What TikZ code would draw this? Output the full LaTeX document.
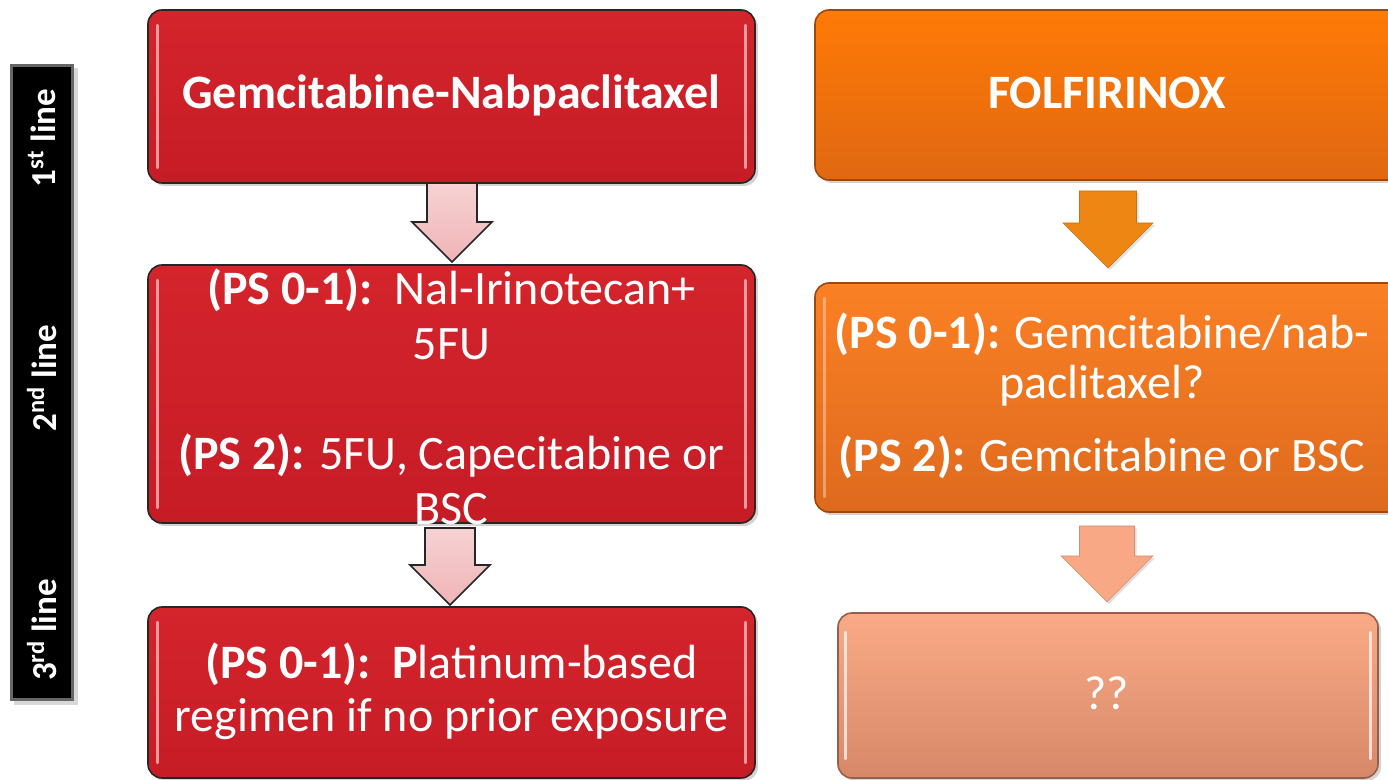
\documentclass[tikz,border=0pt]{standalone}
\usepackage{fontspec}
\setmainfont{Carlito}
\usetikzlibrary{shadows}
\definecolor{redtop}{RGB}{212,36,44}
\definecolor{redbot}{RGB}{198,28,38}
\definecolor{orgtop}{RGB}{255,122,6}
\definecolor{orgbot}{RGB}{224,104,18}
\definecolor{orgbox}{RGB}{250,128,36}
\definecolor{orgbox2}{RGB}{222,106,30}
\definecolor{saltop}{RGB}{250,170,134}
\definecolor{salbot}{RGB}{214,136,104}
\definecolor{pinkarr}{RGB}{240,180,182}
\definecolor{orgarr}{RGB}{238,134,20}
\definecolor{salarr}{RGB}{248,168,132}
\tikzset{
  box/.style={rounded corners=7pt, line width=0.8pt, inner sep=0pt, drop shadow={shadow xshift=1.5pt, shadow yshift=-1.5pt, opacity=0.35}},
  redbox/.style={box, draw=black!85, top color=redtop, bottom color=redbot},
  orgbox/.style={box, draw=orgbot!70!black, top color=orgtop, bottom color=orgbot},
  orgboxb/.style={box, draw=orgbot!70!black, top color=orgbox, bottom color=orgbox2},
  salbox/.style={box, draw=salbot!70!black, top color=saltop, bottom color=salbot},
  txt/.style={text=white, align=center, font=\fontsize{24}{27.5}\selectfont},
  pinkarrow/.style={draw=black!85, line width=0.8pt, top color=pinkarr!60!white, bottom color=pinkarr, line join=miter},
  orgarrow/.style={fill=orgarr, draw=orgarr!85!black, line width=0.3pt, drop shadow={shadow xshift=1pt, shadow yshift=-1pt, opacity=0.25}},
  salarrow/.style={fill=salarr, draw=salarr!85!black, line width=0.3pt, drop shadow={shadow xshift=1pt, shadow yshift=-1pt, opacity=0.25}},
  hilite/.style={white, opacity=0.55, line width=1.4pt, line cap=round},
  barlabel/.style={text=white, rotate=90, font=\fontsize{17.5}{20}\selectfont\bfseries}
}
% block arrow: style, x centre, y top, y tip, shaft half width, head half width
\newcommand\blockarr[6]{%
  \draw[#1] (#2-#5,#3) -- (#2+#5,#3) -- (#2+#5,#4-#6) -- (#2+#6,#4-#6) -- (#2,#4)
    -- (#2-#6,#4-#6) -- (#2-#5,#4-#6) -- cycle;}
\begin{document}
\begin{tikzpicture}[x=0.5pt,y=-0.5pt]
\useasboundingbox (0,0) rectangle (1388,780);
\clip (0,0) rectangle (1388,780);
% left bar
\fill[black!30, opacity=0.5] (14,68) rectangle (78,705);
\fill[black!60] (10,64) rectangle (74,701);
\fill[black] (13,67) rectangle (71,698);
\node[barlabel] (l1) at (42,138) {1\textsuperscript{st} line};
\node[barlabel] (l2) at (42,378) {2\textsuperscript{nd} line};
\node[barlabel] (l3) at (42,630) {3\textsuperscript{rd} line};
% left column
\node[redbox, minimum width=303.5pt, minimum height=86.5pt] (r1) at (451.5,96.5) {};
\node[txt, font=\fontsize{24}{28}\selectfont\bfseries] (r1t) at (451.5,95) {Gemcitabine-Nabpaclitaxel};
\node[redbox, minimum width=303.5pt, minimum height=129pt] (r2) at (451.5,394) {};
\node[txt] (r2t) at (451.5,397) {\textbf{(PS 0-1):}\ \ Nal-Irinotecan+\\5FU\\ \strut\\\textbf{(PS 2):} 5FU, Capecitabine or\\BSC};
\node[redbox, minimum width=303.5pt, minimum height=85.5pt] (r3) at (451.5,692.5) {};
\node[txt, font=\fontsize{24}{26.5}\selectfont] (r3t) at (451.5,691) {\textbf{(PS 0-1):}\ \ \textbf{P}latinum-based\\regimen if no prior exposure};
\foreach \b in {r1,r2,r3}{
  \draw[hilite] ([xshift=5pt,yshift=-8pt]\b.north west) -- ([xshift=5pt,yshift=8pt]\b.south west);
  \draw[hilite] ([xshift=-5pt,yshift=-8pt]\b.north east) -- ([xshift=-5pt,yshift=8pt]\b.south east);
}
\blockarr{pinkarrow}{452}{183}{262}{25}{40}
\blockarr{pinkarrow}{450}{528}{605}{25}{40}
% right column
\node[orgbox, minimum width=300pt, minimum height=85pt] (o1) at (1115,95) {};
\node[txt, font=\fontsize{24}{28}\selectfont\bfseries] (o1t) at (1107,93) {FOLFIRINOX};
\node[orgboxb, minimum width=300pt, minimum height=114.5pt] (o2) at (1115,397.5) {};
\node[txt, font=\fontsize{24}{25}\selectfont] (o2t) at (1102,396) {\textbf{(PS 0-1):} Gemcitabine/nab-\\paclitaxel?\\[11.5pt]\textbf{(PS 2):} Gemcitabine or BSC};
\node[salbox, minimum width=270pt, minimum height=82.5pt] (s1) at (1108,695.5) {};
\node[txt] (s1t) at (1107,693) {??};
\draw[hilite, opacity=0.7] ([xshift=4pt,yshift=-10pt]s1.north west) -- ([xshift=4pt,yshift=10pt]s1.south west);
\draw[hilite, opacity=0.7] ([xshift=-4pt,yshift=-10pt]s1.north east) -- ([xshift=-4pt,yshift=10pt]s1.south east);
\draw[hilite, opacity=0.35] ([xshift=5pt,yshift=-8pt]o2.north west) -- ([xshift=5pt,yshift=8pt]o2.south west);
\blockarr{orgarrow}{1108}{191}{268}{28.5}{45}
\blockarr{salarrow}{1107}{526}{602}{27.5}{46}
\end{tikzpicture}
\end{document}
